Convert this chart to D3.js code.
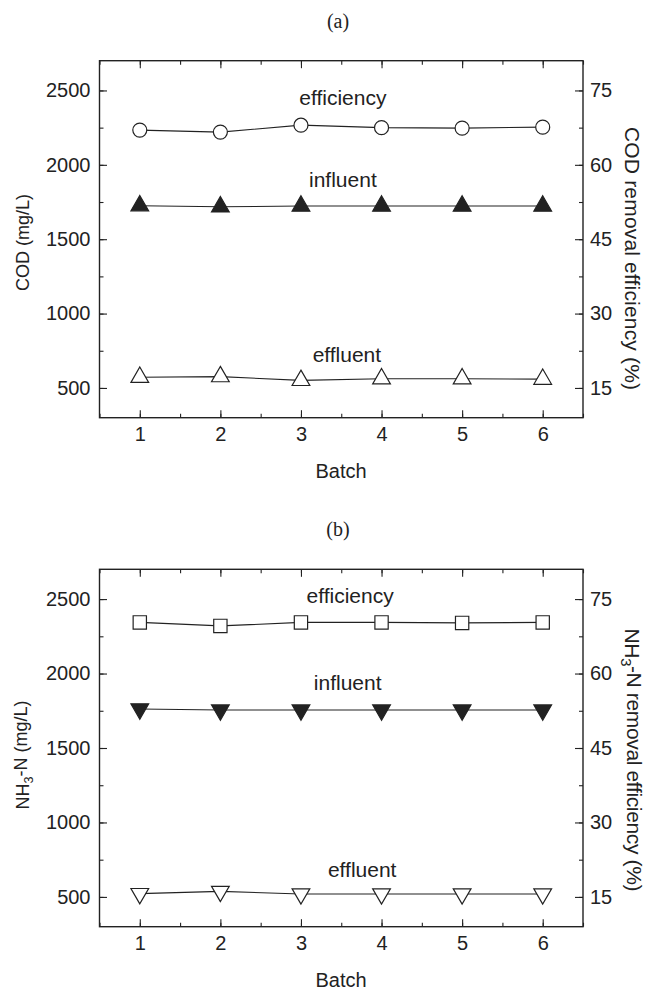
<!DOCTYPE html>
<html>
<head>
<meta charset="utf-8">
<script src="https://cdn.jsdelivr.net/npm/d3@7"></script>
<style>
  body { margin: 0; background: #fff; }
  text { font-family: "Liberation Sans", Arial, sans-serif; fill: #222; }
</style>
</head>
<body>
<svg id="chart" width="647" height="990"></svg>
<script>
// data
var batches = [1, 2, 3, 4, 5, 6];
var codInfluent = [1725, 1718, 1723, 1723, 1723, 1723];
var codEffluent = [572, 576, 551, 562, 562, 559];
var codEfficiency = [67.0, 66.6, 68.0, 67.5, 67.4, 67.6];
var nhInfluent = [1762, 1755, 1755, 1755, 1755, 1755];
var nhEffluent = [522, 537, 520, 520, 520, 520];
var nhEfficiency = [70.3, 69.6, 70.3, 70.3, 70.2, 70.3];
var leftTicks = [500, 1000, 1500, 2000, 2500];
var rightTicks = [15, 30, 45, 60, 75];

var svg = d3.select('#chart');
var ink = '#222';

function drawPanel(p) {
    var x = d3.scaleLinear().domain([0.5, 6.5]).range([99.5, 583]);
    var y = d3.scaleLinear().domain([300, 2700]).range([p.bottom, p.top]);
    var y2 = d3.scaleLinear().domain([9, 81]).range([p.bottom, p.top]);
    var g = svg.append('g');

    // minor ticks first
    var minorX = d3.range(0.5, 6.51, 0.5);
    var minorY = d3.range(250, 2701, 250).filter(function(v){ return v > 300 && v < 2700; });
    var minorY2 = d3.range(7.5, 81, 7.5).filter(function(v){ return v > 9 && v < 81; });

    g.append('g').attr('transform', 'translate(0,' + p.bottom + ')')
        .call(d3.axisBottom(x).tickValues(minorX).tickSize(-4).tickFormat(''));
    g.append('g').attr('transform', 'translate(0,' + p.top + ')')
        .call(d3.axisBottom(x).tickValues(minorX).tickSize(4).tickFormat(''));
    g.append('g').attr('transform', 'translate(99.5,0)')
        .call(d3.axisLeft(y).tickValues(minorY).tickSize(-4).tickFormat(''));
    g.append('g').attr('transform', 'translate(583,0)')
        .call(d3.axisRight(y2).tickValues(minorY2).tickSize(-4).tickFormat(''));

    // major axes
    g.append('g').attr('class', 'ax').attr('transform', 'translate(0,' + p.bottom + ')')
        .call(d3.axisBottom(x).tickValues(batches).tickSize(-7.5).tickPadding(9).tickFormat(d3.format('d')));
    g.append('g').attr('transform', 'translate(0,' + p.top + ')')
        .call(d3.axisBottom(x).tickValues(batches).tickSize(7.5).tickFormat(''));
    g.append('g').attr('class', 'ax').attr('transform', 'translate(99.5,0)')
        .call(d3.axisLeft(y).tickValues(leftTicks).tickSize(-7.5).tickPadding(9).tickFormat(d3.format('d')));
    g.append('g').attr('class', 'ax').attr('transform', 'translate(583,0)')
        .call(d3.axisRight(y2).tickValues(rightTicks).tickSize(-8).tickPadding(7).tickFormat(d3.format('d')));

    g.selectAll('.domain').remove();
    g.selectAll('.tick line').attr('stroke', ink).attr('stroke-width', 1.1);
    g.selectAll('.ax .tick text').style('font-size', '20px').attr('fill', ink);

    g.append('rect')
        .attr('x', 99.5).attr('y', p.top)
        .attr('width', 583 - 99.5).attr('height', p.bottom - p.top)
        .attr('fill', 'none').attr('stroke', ink).attr('stroke-width', 1.4);

    // series
    var series = [
        {vals: p.influent, sc: y, sym: d3.symbolTriangle, size: 136, rot: p.influentRot, fill: ink},
        {vals: p.effluent, sc: y, sym: d3.symbolTriangle, size: 136, rot: p.influentRot, fill: '#fff'},
        {vals: p.efficiency, sc: y2, sym: p.effSym, size: p.effSize, rot: 0, fill: '#fff'}
    ];
    var line = d3.line();
    series.forEach(function(s) {
        var pts = s.vals.map(function(v, i){ return [x(batches[i]), s.sc(v)]; });
        g.append('path').attr('d', line(pts))
            .attr('fill', 'none').attr('stroke', ink).attr('stroke-width', 1.1);
        g.selectAll(null).data(pts).enter().append('path')
            .attr('d', d3.symbol().type(s.sym).size(s.size))
            .attr('transform', function(d){ return 'translate(' + d[0] + ',' + d[1] + ') rotate(' + s.rot + ')'; })
            .attr('fill', s.fill).attr('stroke', ink).attr('stroke-width', 1.2);
    });

    // in-plot labels
    p.notes.forEach(function(n) {
        g.append('text').attr('x', x(n[1])).attr('y', y(n[2]))
            .attr('text-anchor', 'middle').style('font-size', '21px').text(n[0]);
    });

    // panel title
    svg.append('text').attr('x', 338).attr('y', p.top - 33)
        .attr('text-anchor', 'middle')
        .style('font-family', '"Liberation Serif", "Times New Roman", serif')
        .style('font-size', '20px').text(p.title);

    // axis titles
    svg.append('text').attr('x', 341).attr('y', p.bottom + 60)
        .attr('text-anchor', 'middle').style('font-size', '20px').text('Batch');

    var lt = svg.append('text')
        .attr('transform', 'translate(29,' + p.leftMid + ') rotate(-90)')
        .attr('text-anchor', 'middle').style('font-size', '18px');
    p.leftTitle(lt);

    var rt = svg.append('text')
        .attr('transform', 'translate(625,' + p.rightMid + ') rotate(90)')
        .attr('text-anchor', 'middle').style('font-size', '21px')
        .attr('textLength', 263).attr('lengthAdjust', 'spacing');
    p.rightTitle(rt);
}

function nh3(t, rest) {
    t.append('tspan').text('NH');
    t.append('tspan').attr('dy', '0.3em').style('font-size', '0.7em').text('3');
    t.append('tspan').attr('dy', '-0.3em').text('-N' + rest);
}

drawPanel({
    title: '(a)', top: 60.7, bottom: 417.7,
    influent: codInfluent, effluent: codEffluent, efficiency: codEfficiency,
    influentRot: 0, effSym: d3.symbolCircle, effSize: 154,
    notes: [['efficiency', 3.52, 2402], ['influent', 3.52, 1851], ['effluent', 3.57, 675]],
    leftMid: 242.5, rightMid: 258.5,
    leftTitle: function(t){ t.text('COD (mg/L)'); },
    rightTitle: function(t){ t.text('COD removal efficiency (%)'); }
});

drawPanel({
    title: '(b)', top: 569.3, bottom: 926.7,
    influent: nhInfluent, effluent: nhEffluent, efficiency: nhEfficiency,
    influentRot: 180, effSym: d3.symbolSquare, effSize: 177,
    notes: [['efficiency', 3.61, 2474], ['influent', 3.58, 1890], ['effluent', 3.76, 634]],
    leftMid: 755, rightMid: 760,
    leftTitle: function(t){ nh3(t, ' (mg/L)'); },
    rightTitle: function(t){ nh3(t, ' removal efficiency (%)'); }
});
</script>
</body>
</html>
